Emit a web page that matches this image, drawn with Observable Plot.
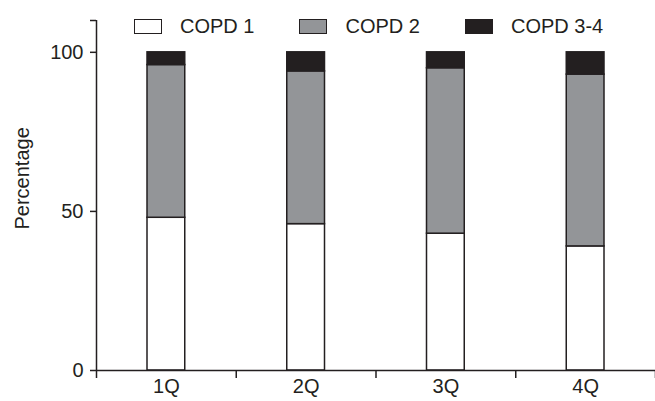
<!DOCTYPE html>
<html>
<head>
<meta charset="utf-8">
<script src="https://cdn.jsdelivr.net/npm/d3@7"></script>
<script src="https://cdn.jsdelivr.net/npm/@observablehq/plot@0.6"></script>
<style>
  html, body { margin: 0; padding: 0; background: #fff; }
  #wrap { position: relative; width: 655px; height: 401px; font-family: "Liberation Sans", Arial, sans-serif; }
  #legend { position: absolute; top: 18px; left: 134px; display: flex; align-items: center; font-size: 20px; color: #231f20; line-height: 16px; }
  .item { display: flex; align-items: center; margin-right: 45px; }
  .sw { width: 26px; height: 13px; border: 1.5px solid #231f20; margin-right: 18px; }
</style>
</head>
<body>
<div id="wrap"><div id="legend"></div></div>
<script>
const quarters = ["1Q", "2Q", "3Q", "4Q"];
const seriesNames = ["COPD 1", "COPD 2", "COPD 3-4"];
const copd1 = [48, 46, 43, 39];
const copd2 = [48, 48, 52, 54];
const copd34 = [4, 6, 5, 7];
const seriesColors = ["#ffffff", "#939598", "#231f20"];
const yTicks = [0, 50, 100];
const yMax = 110;

const seriesValues = [copd1, copd2, copd34];
const rows = [];
quarters.forEach((q, i) => {
  let base = 0;
  seriesValues.forEach((vals, s) => {
    rows.push({q, i, series: seriesNames[s], y1: base, y2: base + vals[i]});
    base += vals[i];
  });
});

const ink = "#231f20";
const chart = Plot.plot({
  width: 655,
  height: 401,
  marginLeft: 96,
  marginRight: 0,
  marginTop: 20,
  marginBottom: 31,
  style: {fontFamily: "Liberation Sans, Arial, sans-serif", fontSize: "20px", color: ink, background: "#fff"},
  x: {type: "linear", domain: [0, quarters.length], axis: null},
  y: {domain: [0, yMax], axis: null},
  color: {domain: seriesNames, range: seriesColors},
  marks: [
    Plot.rectY(rows, {x1: "i", x2: d => d.i + 1, y1: "y1", y2: "y2", fill: "series", stroke: ink, strokeWidth: 1.5, insetLeft: 51, insetRight: 51}),
    Plot.ruleX([0], {stroke: ink, strokeWidth: 1.5}),
    Plot.ruleY([0], {stroke: ink, strokeWidth: 1.5}),
    Plot.axisY({ticks: [...yTicks, yMax], tickFormat: d => yTicks.includes(d) ? String(d) : "", tickSize: 6, tickPadding: 7, stroke: ink, strokeWidth: 1.5, fontSize: 20, label: null}),
    Plot.axisX({ticks: d3.range(quarters.length + 1), tickSize: 8, tickFormat: () => "", stroke: ink, strokeWidth: 1.5, label: null}),
    Plot.axisX({ticks: quarters.map((q, i) => i + 0.5), tickSize: 0, tickPadding: 8, tickFormat: d => quarters[Math.floor(d)], fontSize: 20, label: null}),
    Plot.text(["Percentage"], {frameAnchor: "left", rotate: -90, dx: -74, dy: 34, fill: ink, fontSize: 20, lineAnchor: "middle"})
  ]
});
document.getElementById("wrap").prepend(chart);
chart.style.position = "absolute";
chart.style.left = "0";
chart.style.top = "0";

const legend = document.getElementById("legend");
seriesNames.forEach((name, s) => {
  const item = document.createElement("div");
  item.className = "item";
  const sw = document.createElement("div");
  sw.className = "sw";
  sw.style.background = seriesColors[s];
  const t = document.createElement("span");
  t.textContent = name;
  item.appendChild(sw);
  item.appendChild(t);
  legend.appendChild(item);
});
</script>
</body>
</html>
